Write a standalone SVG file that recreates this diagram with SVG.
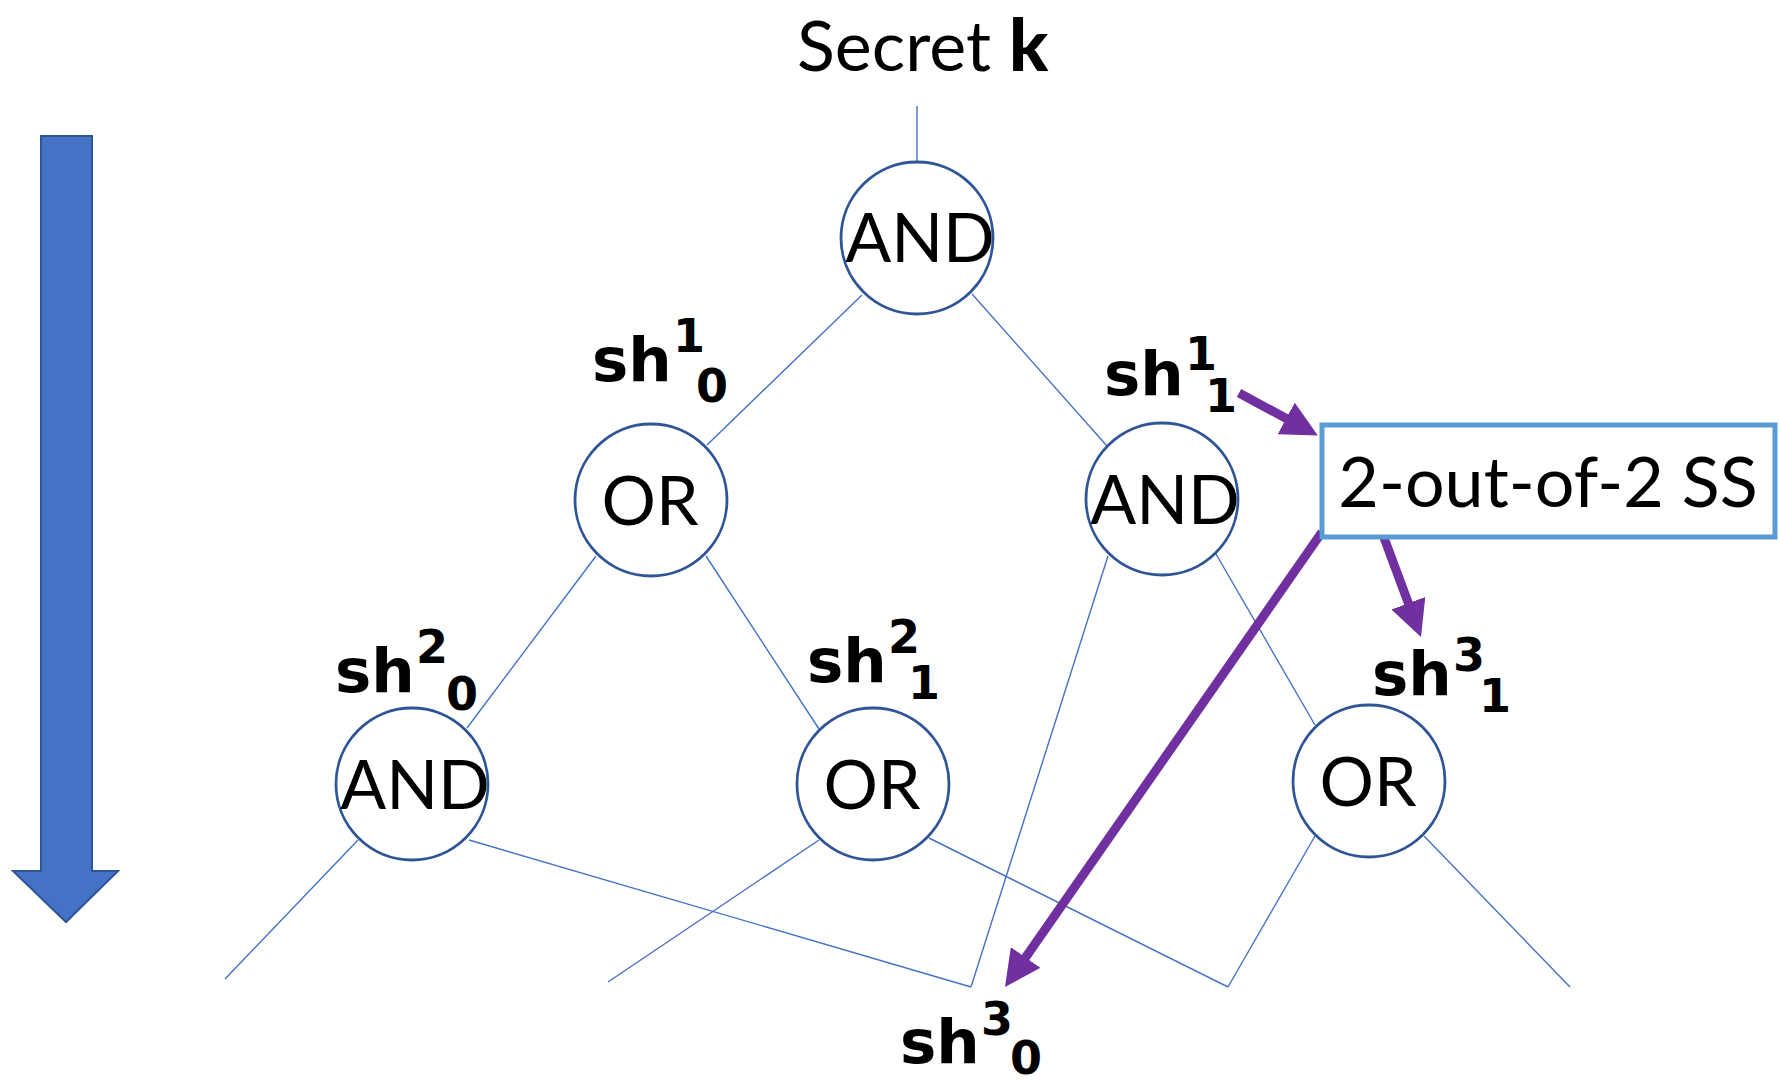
<svg xmlns="http://www.w3.org/2000/svg" width="1779" height="1085" viewBox="0 0 1779 1085">
  <style>
    .edge { stroke: #4472C4; stroke-width: 1.4; fill: none; }
    .gate { fill: #FFFFFF; stroke: #2F5597; stroke-width: 2.8; }
    .gtxt { font-family: Lato, "Open Sans", sans-serif; font-size: 68px; fill: #000; text-anchor: middle; }
    .big { font-family: Lato, "Open Sans", sans-serif; font-size: 70px; fill: #000; }
    .sh { font-family: "DejaVu Sans", sans-serif; font-weight: bold; font-size: 61px; fill: #000; }
    .idx { font-family: "DejaVu Sans", sans-serif; font-weight: bold; font-size: 46px; fill: #000; }
    .share { stroke: #7030A0; stroke-width: 9; fill: none; marker-end: url(#head); }
  </style>
  <defs>
    <marker id="head" viewBox="0 0 10 10" refX="5" refY="5" markerWidth="4" markerHeight="4" orient="auto" markerUnits="strokeWidth">
      <path d="M0,0 L10,5 L0,10 z" fill="#7030A0"/>
    </marker>
  </defs>

  <rect width="1779" height="1085" fill="#FFFFFF"/>

  <!-- direction of sharing: top to bottom -->
  <path id="flow" d="M41,136 H92 V871 H118 L66,922 L13,871 H41 Z" fill="#4472C4" stroke="#2F5597" stroke-width="2"/>

  <!-- secret at the root -->
  <text class="big" x="797" y="71">Secret <tspan font-weight="900" font-size="72">k</tspan></text>

  <!-- tree edges -->
  <g id="edges">
    <line class="edge" x1="917" y1="106" x2="917" y2="162"/>
    <line class="edge" x1="862" y1="295" x2="707" y2="445"/>
    <line class="edge" x1="972" y1="294" x2="1107" y2="446"/>
    <line class="edge" x1="596" y1="556" x2="467" y2="728"/>
    <line class="edge" x1="706" y1="556" x2="819" y2="729"/>
    <line class="edge" x1="1108" y1="556" x2="971" y2="987"/>
    <line class="edge" x1="1216" y1="554" x2="1315" y2="725"/>
    <line class="edge" x1="358" y1="840" x2="225" y2="979"/>
    <line class="edge" x1="469" y1="840" x2="971" y2="987"/>
    <line class="edge" x1="819" y1="840" x2="608" y2="982"/>
    <line class="edge" x1="929" y1="838" x2="1228" y2="987"/>
    <line class="edge" x1="1315" y1="836" x2="1228" y2="987"/>
    <line class="edge" x1="1424" y1="836" x2="1570" y2="987"/>
  </g>

  <!-- gates -->
  <g id="root-and">
    <circle class="gate" cx="917" cy="238" r="76"/>
    <text class="gtxt" x="920" y="262">AND</text>
  </g>
  <g id="or-left">
    <circle class="gate" cx="651" cy="500" r="76"/>
    <text class="gtxt" x="650" y="525">OR</text>
  </g>
  <g id="and-right">
    <circle class="gate" cx="1162" cy="499" r="76"/>
    <text class="gtxt" x="1165" y="524">AND</text>
  </g>
  <g id="and-bottom-left">
    <circle class="gate" cx="412" cy="784" r="76"/>
    <text class="gtxt" x="415" y="809">AND</text>
  </g>
  <g id="or-middle">
    <circle class="gate" cx="873" cy="784" r="76"/>
    <text class="gtxt" x="872" y="809">OR</text>
  </g>
  <g id="or-right">
    <circle class="gate" cx="1369" cy="781" r="76"/>
    <text class="gtxt" x="1368" y="806">OR</text>
  </g>

  <!-- share split arrows -->
  <g id="share-arrows">
    <line class="share" x1="1239" y1="393" x2="1302" y2="427"/>
    <line class="share" x1="1383" y1="535" x2="1414.7" y2="620.1"/>
    <line class="share" x1="1322" y1="532" x2="1015.3" y2="972.2"/>
  </g>

  <g id="ss-box">
    <rect x="1322" y="425" width="453" height="112" fill="#FFFFFF" stroke="#5B9BD5" stroke-width="5"/>
    <text class="big" x="1548" y="507" font-size="72" text-anchor="middle">2-out-of-2 SS</text>
  </g>

  <!-- share labels: "sh", then superscript level and subscript index -->
  <g id="sh1-0">
    <text class="sh" x="592" y="381">sh</text>
    <text class="idx" x="673" y="352">1</text>
    <text class="idx" x="696" y="402">0</text>
  </g>
  <g id="sh1-1">
    <text class="sh" x="1104" y="395">sh</text>
    <text class="idx" x="1185" y="370">1</text>
    <text class="idx" x="1205" y="412">1</text>
  </g>
  <g id="sh2-0">
    <text class="sh" x="335" y="692">sh</text>
    <text class="idx" x="416" y="663">2</text>
    <text class="idx" x="446" y="710">0</text>
  </g>
  <g id="sh2-1">
    <text class="sh" x="807" y="682">sh</text>
    <text class="idx" x="888" y="653">2</text>
    <text class="idx" x="908" y="699">1</text>
  </g>
  <g id="sh3-1">
    <text class="sh" x="1372" y="695">sh</text>
    <text class="idx" x="1453" y="671">3</text>
    <text class="idx" x="1479" y="712">1</text>
  </g>
  <g id="sh3-0">
    <text class="sh" x="900" y="1063">sh</text>
    <text class="idx" x="981" y="1035">3</text>
    <text class="idx" x="1010" y="1074">0</text>
  </g>
</svg>
